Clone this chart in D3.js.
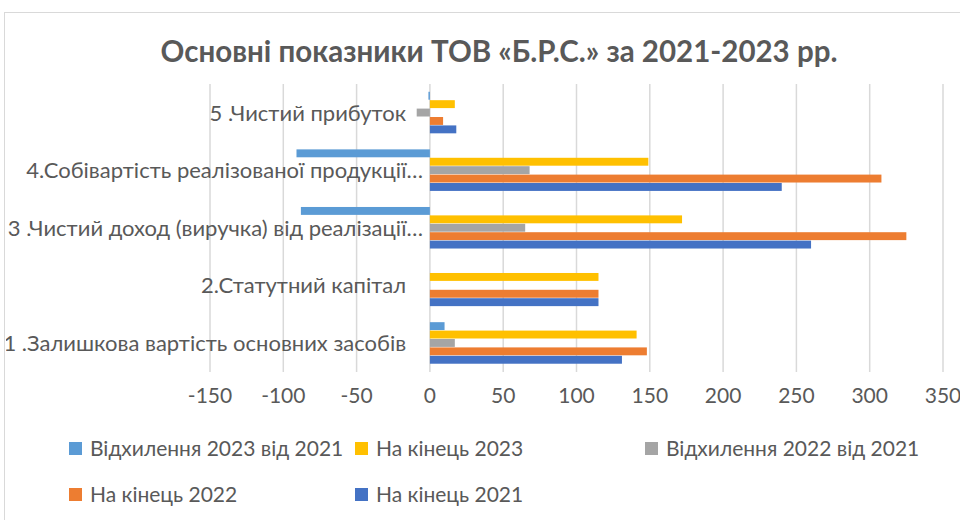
<!DOCTYPE html>
<html lang="uk">
<head>
    <meta charset="UTF-8">
    <title>Основні показники ТОВ «Б.Р.С.»</title>
    <script src="https://d3js.org/d3.v7.min.js"></script>
    <style>
        body { margin: 0; background: #fff; }
        text { font-family: Lato, "Open Sans", sans-serif; fill: #595959; }
        .grid line { stroke: #d9d9d9; stroke-width: 1.5; }
    </style>
</head>
<body>
<svg height="520" width="960"></svg>

<script>
    const svg = d3.select("svg");

    // categories, bottom to top as in the chart
    const categories = [
        "1 .Залишкова вартість основних засобів\u00a0\u00a0\u00a0",
        "2.Статутний капітал\u00a0\u00a0\u00a0",
        "3 .Чистий доход (виручка) від реалізації…",
        "4.Собівартість реалізованої продукції…",
        "5 .Чистий прибуток\u00a0\u00a0\u00a0"
    ];
    const end2021 = [131, 115, 260, 240, 18];
    const end2022 = [148, 115, 325, 308, 9];
    const dev2022 = [17, 0, 65, 68, -9];
    const end2023 = [141, 115, 172, 149, 17];
    const dev2023 = [10, 0, -88, -91, -1];
    const ticks = [-150, -100, -50, 0, 50, 100, 150, 200, 250, 300, 350];

    // series drawn top to bottom inside each group
    const series = [
        {name: "Відхилення 2023 від 2021", values: dev2023, color: "#5b9bd5"},
        {name: "На кінець 2023",           values: end2023, color: "#ffc000"},
        {name: "Відхилення 2022 від 2021", values: dev2022, color: "#a5a5a5"},
        {name: "На кінець 2022",           values: end2022, color: "#ed7d31"},
        {name: "На кінець 2021",           values: end2021, color: "#4472c4"}
    ];

    const x = d3.scaleLinear().domain([-150, 350]).range([210, 943]);
    const y = d3.scaleBand()
        .domain(categories.slice().reverse())
        .range([84, 372])
        .paddingInner(0.27)
        .paddingOuter(0.135);
    const ySub = d3.scaleBand()
        .domain(series.map(s => s.name))
        .range([0, y.bandwidth()]);

    // chart frame
    svg.append("rect")
       .attr("x", 4.5).attr("y", 12.5)
       .attr("width", 1000).attr("height", 600)
       .attr("fill", "none").attr("stroke", "#d9d9d9");

    svg.append("text")
       .attr("x", 499).attr("y", 62)
       .attr("text-anchor", "middle")
       .style("font-size", "29.5px").style("font-weight", "bold")
       .text("Основні показники ТОВ «Б.Р.С.» за 2021-2023 рр.");

    // vertical gridlines
    svg.append("g").attr("class", "grid")
       .selectAll("line")
       .data(ticks)
          .join("line")
            .attr("x1", d => x(d)).attr("x2", d => x(d))
            .attr("y1", 84).attr("y2", 372);

    // bars
    const groups = svg.append("g")
       .selectAll("g")
       .data(series)
          .join("g")
            .attr("fill", d => d.color);

    groups.selectAll("rect")
       .data(s => s.values.map((v, i) => ({v, cat: categories[i], s: s.name})))
          .join("rect")
            .attr("x", d => x(Math.min(0, d.v)))
            .attr("width", d => Math.abs(x(d.v) - x(0)))
            .attr("y", d => y(d.cat) + ySub(d.s))
            .attr("height", ySub.bandwidth() - 0.5);

    // x tick labels
    svg.append("g")
       .selectAll("text")
       .data(ticks)
          .join("text")
            .attr("x", d => x(d)).attr("y", 403)
            .attr("text-anchor", "middle")
            .style("font-size", "21px")
            .text(d => d);

    // category labels, clipped by the frame
    svg.append("clipPath").attr("id", "frame")
       .append("rect").attr("x", 6).attr("y", 0).attr("width", 960).attr("height", 520);

    svg.append("g").attr("clip-path", "url(#frame)")
       .selectAll("text")
       .data(categories)
          .join("text")
            .attr("x", 423)
            .attr("y", d => y(d) + y.bandwidth() / 2)
            .attr("dy", "0.35em")
            .attr("text-anchor", "end")
            .style("font-size", "22px")
            .style("white-space", "pre")
            .text(d => d);

    // legend
    const legendPos = [[69, 449], [355, 449], [645, 449], [69, 495], [355, 495]];
    const legend = svg.append("g")
       .selectAll("g")
       .data(series)
          .join("g")
            .attr("transform", (d, i) => `translate(${legendPos[i][0]},${legendPos[i][1]})`);
    legend.append("rect")
       .attr("x", 0).attr("y", -7).attr("width", 13).attr("height", 13)
       .attr("fill", d => d.color);
    legend.append("text")
       .attr("x", 21).attr("dy", "0.35em")
       .style("font-size", "21px")
       .text(d => d.name);
</script>

</body>
</html>
